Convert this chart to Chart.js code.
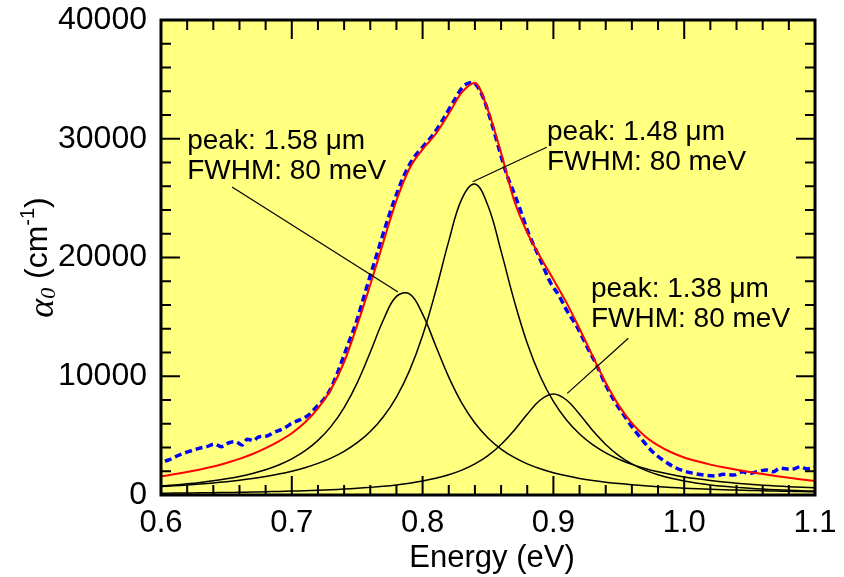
<!DOCTYPE html>
<html>
<head>
<meta charset="utf-8">
<script src="https://cdn.jsdelivr.net/npm/chart.js@4"></script>
<style>
  html, body { margin: 0; padding: 0; background: #fff; }
  #wrap { width: 844px; height: 577px; }
</style>
</head>
<body>
<div id="wrap"><canvas id="chart" width="844" height="577"></canvas></div>
<script>
// photon energy grid (eV) for the fitted curves
const energy = [
  0.60, 0.61, 0.62, 0.63, 0.64, 0.65, 0.66, 0.67, 0.68, 0.69,
  0.70, 0.71, 0.72, 0.73, 0.74, 0.75, 0.76, 0.77, 0.78, 0.79,
  0.80, 0.81, 0.82, 0.83, 0.84, 0.85, 0.86, 0.87, 0.88, 0.89,
  0.90, 0.91, 0.92, 0.93, 0.94, 0.95, 0.96, 0.97, 0.98, 0.99,
  1.00, 1.01, 1.02, 1.03, 1.04, 1.05, 1.06, 1.07, 1.08, 1.09, 1.10
];
// fitted components, alpha0 in cm^-1
const peak158 = [
  756, 840, 939, 1055, 1194, 1361, 1566, 1817, 2132, 2530,
  3043, 3709, 4597, 5777, 7363, 9448, 12021, 14741, 16724, 16931,
  15234, 12574, 9927, 7738, 6058, 4803, 3867, 3161, 2622, 2204,
  1874, 1612, 1399, 1225, 1081, 960, 858, 772, 697, 633,
  577, 528, 485, 448, 414, 384, 357, 333, 311, 291, 273
];
const peak148 = [
  714, 776, 846, 926, 1017, 1123, 1246, 1390, 1560, 1761,
  2003, 2298, 2660, 3109, 3677, 4403, 5346, 6590, 8250, 10476,
  13432, 17174, 21377, 24938, 26184, 24358, 20539, 16369, 12777, 9979,
  7878, 6312, 5137, 4242, 3552, 3011, 2581, 2234, 1951, 1718,
  1523, 1359, 1220, 1101, 998, 909, 831, 763, 702, 649, 601
];
const peak138 = [
  148, 159, 170, 183, 197, 212, 230, 250, 272, 298,
  327, 361, 400, 446, 500, 564, 642, 735, 850, 993,
  1172, 1402, 1700, 2092, 2615, 3317, 4250, 5440, 6800, 8000,
  8500, 8000, 6800, 5440, 4250, 3317, 2615, 2092, 1700, 1402,
  1172, 993, 850, 735, 642, 564, 500, 446, 400, 361, 327
];
const fitSum = [
  1570, 1740, 1930, 2150, 2400, 2700, 3040, 3450, 3950, 4520,
  5200, 6100, 7300, 8900, 11200, 14300, 17700, 21300, 24800, 27500,
  29100, 30400, 32100, 33900, 34700, 32400, 28800, 24800, 22100, 20050,
  18150, 16200, 14000, 11700, 9450, 7550, 6050, 4950, 4180, 3600,
  3160, 2840, 2560, 2330, 2120, 1930, 1760, 1600, 1450, 1310, 1190
];

// measured spectrum
const measuredEnergy = [
  0.603, 0.606, 0.610, 0.616, 0.621, 0.629, 0.635, 0.641, 0.646, 0.652,
  0.657, 0.662, 0.666, 0.671, 0.674, 0.681, 0.686, 0.694, 0.700, 0.706,
  0.713, 0.719, 0.724, 0.729, 0.735, 0.742, 0.750, 0.757, 0.764, 0.771,
  0.778, 0.785, 0.792, 0.800, 0.808, 0.816, 0.824, 0.831, 0.838, 0.845,
  0.852, 0.858, 0.864, 0.872, 0.881, 0.889, 0.898, 0.904, 0.910, 0.918,
  0.927, 0.933, 0.940, 0.947, 0.952, 0.961, 0.968, 0.975, 0.983, 0.992,
  0.999, 1.007, 1.015, 1.024, 1.030, 1.038, 1.045, 1.049, 1.056, 1.063,
  1.068, 1.073, 1.082, 1.089, 1.094, 1.100
];
const measuredAbs = [
  2850, 2950, 3170, 3450, 3650, 3930, 4070, 4290, 4070, 4400,
  4490, 4210, 4690, 4570, 4860, 4970, 5250, 5610, 6040, 6320,
  6740, 7440, 8000, 8800, 10300, 12400, 14800, 17400, 19900, 22400,
  24700, 26700, 28200, 29300, 30350, 31700, 33200, 34400, 34750, 33800,
  31600, 29300, 27100, 24840, 22040, 20070, 17830, 16840, 15580, 14170,
  12210, 10950, 9260, 7860, 7020, 5610, 4630, 3730, 3000, 2380,
  2050, 1830, 1680, 1600, 1740, 1680, 1960, 1800, 1960, 2100,
  1950, 2250, 2160, 2380, 2200, 2330
];

const xTicks = [0.6, 0.7, 0.8, 0.9, 1.0, 1.1];
const yTicks = [0, 10000, 20000, 30000, 40000];

// peak annotations: text, text anchor, leader line (data units)
const peakText = [
  ['peak: 1.58 \u03BCm', 'FWHM: 80 meV'],
  ['peak: 1.48 \u03BCm', 'FWHM: 80 meV'],
  ['peak: 1.38 \u03BCm', 'FWHM: 80 meV']
];
const textAnchor = [[0.620, 29140], [0.8951, 29890], [0.9287, 16670]];
const leaderFrom = [[0.6543, 25940], [0.8949, 29280], [0.9573, 13200]];
const leaderTo = [[0.7812, 17100], [0.8383, 26380], [0.9106, 8560]];

const pts = (xs, ys) => xs.map((x, i) => ({ x: x, y: ys[i] }));

const SANS = '"Liberation Sans", Arial, sans-serif';
const SERIF = '"Liberation Serif", "Times New Roman", serif';

const framePlugin = {
  id: 'frame',
  beforeDatasetsDraw(chart) {
    const { ctx, chartArea: a } = chart;
    ctx.save();
    ctx.fillStyle = '#ffff80';
    ctx.fillRect(a.left, a.top, a.right - a.left, a.bottom - a.top);
    ctx.restore();
  },
  afterDatasetsDraw(chart) {
    const { ctx, chartArea: a, scales: { x, y } } = chart;
    ctx.save();

    // leader lines
    ctx.strokeStyle = '#000';
    ctx.lineWidth = 1.2;
    leaderFrom.forEach((p, i) => {
      ctx.beginPath();
      ctx.moveTo(x.getPixelForValue(p[0]), y.getPixelForValue(p[1]));
      ctx.lineTo(x.getPixelForValue(leaderTo[i][0]), y.getPixelForValue(leaderTo[i][1]));
      ctx.stroke();
    });

    // annotation text
    ctx.fillStyle = '#000';
    ctx.font = '28px ' + SANS;
    ctx.textAlign = 'left';
    ctx.textBaseline = 'alphabetic';
    peakText.forEach((lines, i) => {
      const px = x.getPixelForValue(textAnchor[i][0]);
      const py = y.getPixelForValue(textAnchor[i][1]);
      lines.forEach((t, j) => ctx.fillText(t, px, py + j * 30));
    });

    // frame
    ctx.lineWidth = 3;
    ctx.strokeRect(a.left, a.top, a.right - a.left, a.bottom - a.top);

    // inward ticks on all four sides
    ctx.lineWidth = 2;
    ctx.beginPath();
    for (let k = 0; k <= 25; k++) {
      const px = x.getPixelForValue(0.6 + k * 0.02);
      const len = k % 5 === 0 ? 19 : 10;
      ctx.moveTo(px, a.bottom); ctx.lineTo(px, a.bottom - len);
      ctx.moveTo(px, a.top); ctx.lineTo(px, a.top + len);
    }
    for (let k = 0; k <= 20; k++) {
      const py = y.getPixelForValue(k * 2000);
      const len = k % 5 === 0 ? 19 : 10;
      ctx.moveTo(a.left, py); ctx.lineTo(a.left + len, py);
      ctx.moveTo(a.right, py); ctx.lineTo(a.right - len, py);
    }
    ctx.stroke();
    ctx.restore();
  },
  afterDraw(chart) {
    const { ctx, chartArea: a } = chart;
    ctx.save();
    ctx.fillStyle = '#000';

    // x title
    ctx.font = '31px ' + SANS;
    ctx.textAlign = 'center';
    ctx.textBaseline = 'alphabetic';
    ctx.fillText('Energy (eV)', (a.left + a.right) / 2 + 4, 567);

    // y title: alpha_0 (cm^-1)
    const parts = [
      { t: '\u03B1', font: 'italic 36px ' + SERIF, dy: 6 },
      { t: '0', font: 'italic 22px ' + SERIF, dy: 8 },
      { t: ' (cm', font: '32px ' + SANS, dy: 0 },
      { t: '-1', font: '20px ' + SANS, dy: -13 },
      { t: ')', font: '32px ' + SANS, dy: 0 }
    ];
    let total = 0;
    parts.forEach(p => { ctx.font = p.font; p.w = ctx.measureText(p.t).width; total += p.w; });
    ctx.translate(47, (a.top + a.bottom) / 2);
    ctx.rotate(-Math.PI / 2);
    ctx.textAlign = 'left';
    let cx = -total / 2;
    parts.forEach(p => { ctx.font = p.font; ctx.fillText(p.t, cx, p.dy); cx += p.w; });
    ctx.restore();
  }
};

const ctx = document.getElementById('chart').getContext('2d');
new Chart(ctx, {
  type: 'line',
  data: {
    datasets: [
      { label: 'fit', data: pts(energy, fitSum), borderColor: '#ff0000', borderWidth: 2, cubicInterpolationMode: 'monotone' },
      { label: 'measured', data: pts(measuredEnergy, measuredAbs), borderColor: '#0000ff', borderWidth: 3.5, borderDash: [7, 4], cubicInterpolationMode: 'monotone' },
      { label: '1.58 um', data: pts(energy, peak158), borderColor: '#000', borderWidth: 1.5, tension: 0.4 },
      { label: '1.48 um', data: pts(energy, peak148), borderColor: '#000', borderWidth: 1.5, tension: 0.4 },
      { label: '1.38 um', data: pts(energy, peak138), borderColor: '#000', borderWidth: 1.5, tension: 0.4 }
    ]
  },
  options: {
    responsive: false,
    animation: false,
    layout: { padding: { left: 0, right: 29, top: 20, bottom: 0 } },
    elements: { point: { radius: 0 }, line: { fill: false } },
    plugins: { legend: { display: false }, tooltip: { enabled: false } },
    scales: {
      x: {
        type: 'linear',
        min: 0.6,
        max: 1.1,
        afterBuildTicks: s => { s.ticks = xTicks.map(v => ({ value: v })); },
        ticks: {
          color: '#000',
          font: { family: SANS, size: 31 },
          padding: 10,
          maxRotation: 0,
          autoSkip: false,
          callback: v => Number(v).toFixed(1)
        },
        grid: { display: false, drawTicks: false },
        border: { display: false },
        afterFit: s => { s.height = 82; s.paddingLeft = 0; s.paddingRight = 0; }
      },
      y: {
        type: 'linear',
        min: 0,
        max: 40000,
        afterBuildTicks: s => { s.ticks = yTicks.map(v => ({ value: v })); },
        ticks: {
          color: '#000',
          font: { family: SANS, size: 32 },
          padding: 14,
          autoSkip: false,
          callback: v => String(v)
        },
        grid: { display: false, drawTicks: false },
        border: { display: false },
        afterFit: s => { s.width = 161; s.paddingTop = 0; s.paddingBottom = 0; }
      }
    }
  },
  plugins: [framePlugin]
});
</script>
</body>
</html>
